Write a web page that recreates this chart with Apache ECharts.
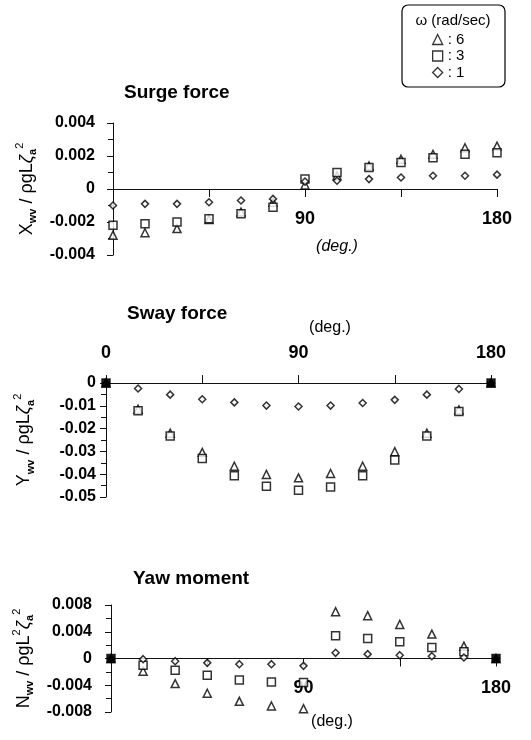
<!DOCTYPE html>
<html>
<head>
<meta charset="utf-8">
<script src="https://cdn.jsdelivr.net/npm/echarts@6/dist/echarts.min.js"></script>
<style>
  html, body { margin: 0; padding: 0; background: #fff; }
  #chart { width: 531px; height: 740px; }
</style>
</head>
<body>
<div id="chart"></div>
<script>
// heading angle (deg.)
const angles = [0, 15, 30, 45, 60, 75, 90, 105, 120, 135, 150, 165, 180];
const omegas = ['6', '3', '1'];

// Surge force  X_wv / rho g L zeta_a^2
const surge6 = [-0.0028, -0.00265, -0.0024, -0.00185, -0.0014, -0.0008, 0.00025, 0.0008, 0.0014, 0.0018, 0.0021, 0.0025, 0.0026];
const surge3 = [-0.0022, -0.0021, -0.002, -0.0018, -0.0015, -0.0011, 0.0006, 0.001, 0.0013, 0.0016, 0.0019, 0.0021, 0.0022];
const surge1 = [-0.001, -0.0009, -0.0009, -0.0008, -0.0007, -0.0006, 0.00045, 0.0005, 0.0006, 0.0007, 0.0008, 0.0008, 0.00087];

// Sway force  Y_wv / rho g L zeta_a^2
const sway6 = [0, -0.0115, -0.022, -0.0304, -0.0365, -0.0401, -0.0416, -0.0397, -0.0365, -0.0301, -0.022, -0.0118, 0];
const sway3 = [0, -0.0122, -0.0232, -0.0331, -0.0407, -0.0453, -0.047, -0.0456, -0.0407, -0.0338, -0.0232, -0.0125, 0];
const sway1 = [0, -0.0024, -0.0051, -0.0071, -0.0085, -0.0099, -0.0103, -0.0099, -0.0088, -0.0074, -0.0051, -0.0026, 0];

// Yaw moment  N_wv / rho g L^2 zeta_a^2
const yaw6 = [0, -0.0019, -0.00375, -0.0052, -0.0064, -0.0071, -0.0075, 0.007, 0.0064, 0.0051, 0.00365, 0.00185, 0];
const yaw3 = [0, -0.001, -0.00175, -0.0025, -0.0032, -0.0035, -0.0036, 0.0034, 0.003, 0.0025, 0.00165, 0.001, 0];
const yaw1 = [0, -0.0001, -0.0004, -0.00065, -0.00085, -0.00085, -0.0011, 0.00085, 0.00065, 0.0005, 0.00035, 0.00015, 0];

const chart = echarts.init(document.getElementById('chart'));

const FONT = '"Liberation Sans", Arial, sans-serif';
const symbols = ['triangle', 'rect', 'diamond'];
const sizes = [8, 8, 7];

// end points (0 and 180 deg) where all three coincide are drawn solid
function pairs(values) {
  return values.map((v, i) => {
    const end = (i === 0 || i === angles.length - 1) && v === 0;
    return end ? { value: [angles[i], v], itemStyle: { color: '#000' } } : [angles[i], v];
  });
}

function makeSeries(idx, sets) {
  return sets.map((vals, k) => ({
    name: omegas[k],
    type: 'scatter',
    xAxisIndex: idx,
    yAxisIndex: idx,
    symbol: symbols[k],
    symbolSize: sizes[k],
    itemStyle: { color: '#fff', borderColor: '#000', borderWidth: 1.5 },
    data: pairs(vals)
  }));
}

function yName(letter, l2) {
  return '{b|' + letter + '}{s|wv}{b| / ρgL}' + (l2 ? '{p|2}' : '') + '{z|ζ}{s|a}{p|2}';
}

const nameRich = {
  b: { fontSize: 18, fontFamily: FONT, color: '#000' },
  z: { fontSize: 18, fontFamily: FONT, fontStyle: 'italic', color: '#000' },
  s: { fontSize: 11, fontFamily: FONT, fontWeight: 'bold', color: '#000', verticalAlign: 'bottom', lineHeight: 16 },
  p: { fontSize: 11, fontFamily: FONT, color: '#000', verticalAlign: 'top', lineHeight: 24 }
};

// the x axis sits on the zero line: shift it up from the grid bottom
function xAxis(idx, pos, labels, offset) {
  return {
    type: 'value',
    gridIndex: idx,
    position: pos,
    offset: offset,
    min: 0,
    max: 180,
    interval: 45,
    axisLine: { onZero: false, lineStyle: { color: '#111', width: 1 } },
    axisTick: { show: true, length: 8, lineStyle: { color: '#111' } },
    splitLine: { show: false },
    axisLabel: {
      margin: 21,
      fontSize: 18,
      fontWeight: 'bold',
      fontFamily: FONT,
      color: '#000',
      formatter: v => (labels.indexOf(v) >= 0 ? String(v) : '')
    }
  };
}

function yAxis(idx, min, max, interval, margin, name, gap) {
  return {
    type: 'value',
    gridIndex: idx,
    min: min,
    max: max,
    interval: interval,
    name: name,
    nameLocation: 'middle',
    nameRotate: 90,
    nameGap: gap,
    nameTextStyle: { rich: nameRich },
    axisLine: { show: true, onZero: false, lineStyle: { color: '#111', width: 1 } },
    axisTick: { show: true, length: 6, lineStyle: { color: '#111' } },
    minorTick: { show: true, splitNumber: 2, length: 5, lineStyle: { color: '#111' } },
    splitLine: { show: false },
    axisLabel: {
      margin: margin,
      fontSize: 16,
      fontWeight: 'bold',
      fontFamily: FONT,
      color: '#000',
      formatter: v => (Math.abs(v) < 1e-12 ? '0' : String(+v.toFixed(4)))
    }
  };
}

function label(text, x, y, opts) {
  return {
    type: 'text',
    x: x,
    y: y,
    style: Object.assign({
      text: text,
      fill: '#000',
      font: '16px ' + FONT,
      align: 'center',
      verticalAlign: 'middle'
    }, opts || {})
  };
}

const option = {
  animation: false,
  backgroundColor: '#fff',
  grid: [
    { left: 113, top: 123, width: 384, height: 132 },
    { left: 106, top: 383, width: 385, height: 114 },
    { left: 111, top: 605, width: 385, height: 107 }
  ],
  xAxis: [
    xAxis(0, 'bottom', [90, 180], -66),
    xAxis(1, 'top', [0, 90, 180], 0),
    xAxis(2, 'bottom', [90, 180], -53.5)
  ],
  yAxis: [
    yAxis(0, -0.004, 0.004, 0.002, 18, yName('X', false), 72),
    yAxis(1, -0.05, 0, 0.01, 10, yName('Y', false), 70),
    yAxis(2, -0.008, 0.008, 0.004, 19, yName('N', true), 71)
  ],
  legend: {
    orient: 'vertical',
    left: 427,
    top: 27,
    itemWidth: 10,
    itemHeight: 10,
    itemGap: 1.5,
    data: omegas,
    formatter: ': {name}',
    textStyle: { fontSize: 15, fontFamily: FONT, color: '#000' },
    itemStyle: { color: '#fff', borderColor: '#000', borderWidth: 1.3 }
  },
  graphic: [
    {
      type: 'rect',
      shape: { x: 402, y: 5, width: 103, height: 82, r: 6 },
      style: { fill: 'none', stroke: '#000', lineWidth: 1.2 }
    },
    label('ω (rad/sec)', 453, 21, { font: '15px ' + FONT }),
    label('Surge force', 124, 93, { font: 'bold 19px ' + FONT, align: 'left' }),
    label('Sway force', 127, 314, { font: 'bold 19px ' + FONT, align: 'left' }),
    label('Yaw moment', 133, 579, { font: 'bold 19px ' + FONT, align: 'left' }),
    label('(deg.)', 337, 247, { font: 'italic 16px ' + FONT }),
    label('(deg.)', 330, 328),
    label('(deg.)', 332, 722)
  ],
  series: [].concat(
    makeSeries(0, [surge6, surge3, surge1]),
    makeSeries(1, [sway6, sway3, sway1]),
    makeSeries(2, [yaw6, yaw3, yaw1])
  )
};

chart.setOption(option);
</script>
</body>
</html>
